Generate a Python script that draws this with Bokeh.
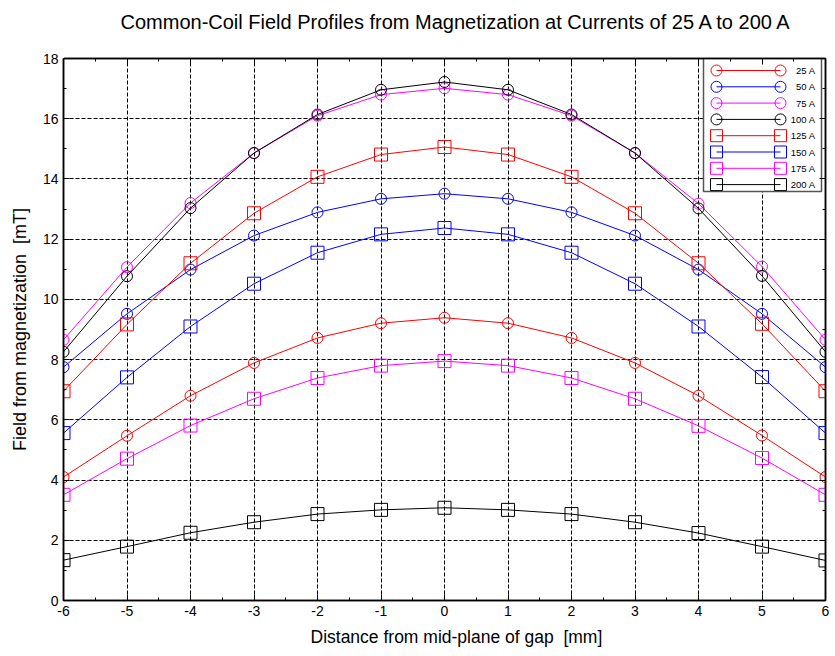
from bokeh.plotting import figure
from bokeh.models import Range1d, LinearAxis, FixedTicker, Title, ColumnDataSource, Grid
from bokeh.embed import file_html
from bokeh.resources import INLINE
from bokeh.core.properties import value

# ---------------- data ----------------
x_mm = [-6, -5, -4, -3, -2, -1, 0, 1, 2, 3, 4, 5, 6]
b_25A = [4.10, 5.47, 6.80, 7.89, 8.72, 9.21, 9.39, 9.21, 8.72, 7.89, 6.80, 5.48, 4.10]
b_50A = [7.75, 9.52, 10.99, 12.12, 12.89, 13.34, 13.51, 13.34, 12.89, 12.12, 10.99, 9.52, 7.75]
b_75A = [8.66, 11.07, 13.20, 14.86, 16.10, 16.80, 17.01, 16.80, 16.10, 14.86, 13.18, 11.09, 8.66]
b_100A = [8.26, 10.77, 13.03, 14.86, 16.14, 16.96, 17.22, 16.96, 16.14, 14.86, 13.02, 10.78, 8.26]
b_125A = [6.95, 9.17, 11.20, 12.86, 14.07, 14.81, 15.06, 14.81, 14.07, 12.86, 11.20, 9.19, 6.95]
b_150A = [5.56, 7.41, 9.10, 10.52, 11.55, 12.16, 12.37, 12.16, 11.55, 10.52, 9.10, 7.42, 5.56]
b_175A = [3.51, 4.71, 5.81, 6.70, 7.39, 7.80, 7.95, 7.80, 7.39, 6.70, 5.80, 4.73, 3.51]
b_200A = [1.34, 1.79, 2.25, 2.60, 2.87, 3.01, 3.08, 3.01, 2.87, 2.60, 2.24, 1.79, 1.33]

series_labels = ["25 A", "50 A", "75 A", "100 A", "125 A", "150 A", "175 A", "200 A"]
series_values = [b_25A, b_50A, b_75A, b_100A, b_125A, b_150A, b_175A, b_200A]
series_colors = ["#ff0000", "#0000ff", "#ff00ff", "#000000",
                 "#ff0000", "#0000ff", "#ff00ff", "#000000"]
series_markers = ["circle"] * 4 + ["square"] * 4

x_ticks = [-6, -5, -4, -3, -2, -1, 0, 1, 2, 3, 4, 5, 6]
x_tick_labels = ["-6", "-5", "-4", "-3", "-2", "-1", "0", "1", "2", "3", "4", "5", "6"]
y_ticks = [0, 2, 4, 6, 8, 10, 12, 14, 16, 18]
y_tick_labels = ["0", "2", "4", "6", "8", "10", "12", "14", "16", "18"]

TITLE = "Common-Coil Field Profiles from Magnetization at Currents of 25 A to 200 A"
X_LABEL = "Distance from mid-plane of gap \u00a0[mm]"
Y_LABEL = "Field from magnetization \u00a0[mT]"

# ---------------- layout constants ----------------
W, H = 835, 656
FL, FR, FT, FB = 63, 825, 58, 600   # frame edges in canvas px
X0, X1, Y0, Y1 = -6, 6, 0, 18
FONT = "Liberation Sans"

def px_to_x(px):
    return X0 + (px - FL) * (X1 - X0) / (FR - FL)

def py_to_y(py):
    return Y0 + (FB - py) * (Y1 - Y0) / (FB - FT)

p = figure(width=W, height=H, x_range=Range1d(X0, X1), y_range=Range1d(Y0, Y1),
           output_backend="svg", toolbar_location=None,
           min_border_left=FL, min_border_right=W - FR,
           min_border_top=FT, min_border_bottom=H - FB,
           x_axis_location=None, y_axis_location=None)
p.title = None
p.background_fill_color = "white"
p.border_fill_color = "white"
p.outline_line_color = "black"
p.outline_line_width = 1.5
for g in p.grid:
    g.visible = False

def make_axis(ticks, labels, show_labels, minor):
    ax = LinearAxis(ticker=FixedTicker(ticks=ticks, minor_ticks=minor))
    ax.major_tick_in = 6
    ax.major_tick_out = 0
    ax.minor_tick_in = 3
    ax.minor_tick_out = 0
    ax.axis_line_color = "black"
    ax.axis_line_width = 1.5
    ax.major_tick_line_color = "black"
    ax.minor_tick_line_color = "black"
    ax.major_label_text_font = FONT
    ax.major_label_text_font_size = "14px"
    ax.major_label_text_color = "black"
    if show_labels:
        ax.major_label_overrides = {t: s for t, s in zip(ticks, labels)}
        ax.major_label_standoff = 5
    else:
        ax.major_label_overrides = {t: "" for t in ticks}
        ax.major_label_standoff = 0
    return ax

x_minor = [v / 2 for v in range(2 * X0, 2 * X1 + 1)]
y_minor = list(range(Y0, Y1 + 1))

xb = make_axis(x_ticks, x_tick_labels, True, x_minor)
yl = make_axis(y_ticks, y_tick_labels, True, y_minor)
xa = make_axis(x_ticks, x_tick_labels, False, x_minor)
yr = make_axis(y_ticks, y_tick_labels, False, y_minor)

yl.axis_label = Y_LABEL
yl.axis_label_text_font = FONT
yl.axis_label_text_font_size = "18px"
yl.axis_label_text_font_style = "normal"
yl.axis_label_text_color = "black"
yl.axis_label_standoff = 10

p.add_layout(xb, "below")
p.add_layout(yl, "left")
p.add_layout(xa, "above")
p.add_layout(yr, "right")

# spacer between the top axis and the title (white outward tick at the corner)
spacer = LinearAxis(ticker=FixedTicker(ticks=[X0], minor_ticks=[]),
                    major_tick_out=24, major_tick_in=0,
                    minor_tick_out=0, minor_tick_in=0,
                    axis_line_color=None,
                    major_tick_line_color="white", minor_tick_line_color=None,
                    major_label_standoff=0, major_label_overrides={X0: ""},
                    major_label_text_font=FONT, major_label_text_font_size="14px")
p.add_layout(spacer, "above")

# title (outermost panel above)
p.add_layout(Title(text=TITLE, align="left", text_color="black",
                   text_font=FONT, text_font_size="20px", text_font_style="normal",
                   offset=120 - FL, standoff=4), "above")

p.add_layout(Title(text=X_LABEL, align="left", text_color="black",
                   text_font=FONT, text_font_size="17.5px", text_font_style="normal",
                   offset=310 - FL, standoff=13), "below")

# grid
p.add_layout(Grid(dimension=0, ticker=xb.ticker, grid_line_color="black",
                  grid_line_dash="4 2", grid_line_width=1))
p.add_layout(Grid(dimension=1, ticker=yl.ticker, grid_line_color="black",
                  grid_line_dash="4 2", grid_line_width=1))

# series
for lab, vals, col, mk in zip(series_labels, series_values, series_colors, series_markers):
    src = ColumnDataSource(dict(x=x_mm, y=vals))
    p.line("x", "y", source=src, line_color=col, line_width=1)
    p.scatter("x", "y", source=src, marker=mk, size=11 if mk == "circle" else 13,
              line_color=col, line_width=1, fill_color=None)

# legend (drawn manually: line with a marker at each end)
LG_L, LG_R, LG_T, LG_B = 703, 821, 58, 191
p.quad(left=px_to_x(LG_L), right=px_to_x(LG_R), top=py_to_y(LG_T), bottom=py_to_y(LG_B),
       fill_color="white", line_color="#555555", line_width=1.5)
row0, row_step = 70, 16.3
m_left, m_right, txt_right = 716, 780, 815
for i, (lab, col, mk) in enumerate(zip(series_labels, series_colors, series_markers)):
    yy = py_to_y(row0 + i * row_step)
    p.line([px_to_x(m_left), px_to_x(m_right)], [yy, yy], line_color=col, line_width=1)
    p.scatter([px_to_x(m_left), px_to_x(m_right)], [yy, yy], marker=mk,
              size=11 if mk == "circle" else 12, line_color=col, line_width=1,
              fill_color=None)
    p.text([px_to_x(txt_right)], [yy], text=[lab], text_font=value(FONT),
           text_font_size="9.5px", text_align="right", text_baseline="middle",
           text_color="black")

open("out.html", "w").write(file_html(p, INLINE))
